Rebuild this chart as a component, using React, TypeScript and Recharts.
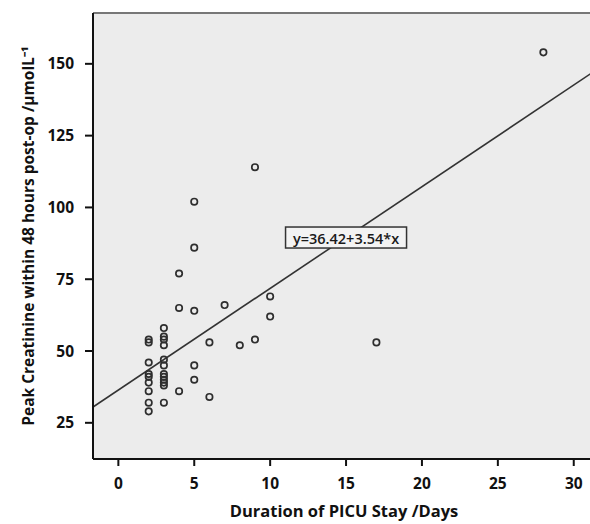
import { ScatterChart, Scatter, XAxis, YAxis, CartesianGrid, ReferenceLine, ReferenceDot, Label } from 'recharts';

// PICU stay (days) vs peak creatinine
const stayDays = [
  2, 2, 2, 2, 2, 2, 2, 2, 2,
  3, 3, 3, 3, 3, 3, 3, 3, 3, 3, 3, 3,
  4, 4, 4,
  5, 5, 5, 5, 5,
  6, 6,
  7,
  8,
  9, 9,
  10, 10,
  17,
  28,
];
const creatinine = [
  54, 53, 46, 42, 41, 39, 36, 32, 29,
  58, 55, 54, 52, 47, 45, 42, 41, 40, 39, 38, 32,
  77, 65, 36,
  102, 86, 64, 45, 40,
  53, 34,
  66,
  52,
  114, 54,
  69, 62,
  53,
  154,
];

const xTicks = [0, 5, 10, 15, 20, 25, 30];
const yTicks = [25, 50, 75, 100, 125, 150];

// fit line y = a + b*x
const INTERCEPT = 36.42;
const SLOPE = 3.54;
const FIT_LABEL = 'y=36.42+3.54*x';
const LABEL_AT_X = 15;

const X_MIN = -1.67;
const X_MAX = 31.4;
const Y_MIN = 12.4;
const Y_MAX = 167.7;

const points = stayDays.map((d, i) => ({ days: d, creat: creatinine[i] }));
const fit = (x: number) => INTERCEPT + SLOPE * x;

const FONT = '"Open Sans", sans-serif';
const tickStyle = { fill: '#111', fontSize: 15.5, fontWeight: 700, fontFamily: FONT };

const Ring = (props: any) => (
  <circle cx={props.cx} cy={props.cy} r={3.2} fill="none" stroke="#2e2e2e" strokeWidth={1.7} />
);

const FitBox = (props: any) => {
  const { cx, cy } = props;
  return (
    <g>
      <rect x={cx - 60.5} y={cy - 10.5} width={121} height={21} fill="#f3f3f3" stroke="#333" strokeWidth={1.5} />
      <text x={cx} y={cy + 1} textAnchor="middle" dominantBaseline="central" fontSize={14.5} fontWeight={600} fontFamily={FONT} fill="#1a1a1a">
        {FIT_LABEL}
      </text>
    </g>
  );
};

export default function App() {
  return (
    <div style={{ position: 'absolute', left: 0, top: 0, width: 590, height: 524, overflow: 'hidden', background: '#fff' }}>
      <ScatterChart width={600} height={524} margin={{ top: 13, right: 5, left: 0, bottom: 0 }}>
        <CartesianGrid fill="#ececec" horizontal={false} vertical={false} />
        <XAxis
          type="number"
          dataKey="days"
          domain={[X_MIN, X_MAX]}
          ticks={xTicks}
          allowDataOverflow
          height={65}
          tick={tickStyle}
          tickSize={7}
          tickMargin={12}
          axisLine={{ stroke: '#111', strokeWidth: 2 }}
          tickLine={{ stroke: '#111', strokeWidth: 2 }}
        >
          <Label
            value="Duration of PICU Stay /Days"
            position="insideBottom"
            offset={7}
            style={{ fill: '#111', fontSize: 16.5, fontWeight: 700, fontFamily: FONT }}
          />
        </XAxis>
        <YAxis
          type="number"
          dataKey="creat"
          domain={[Y_MIN, Y_MAX]}
          ticks={yTicks}
          allowDataOverflow
          width={93}
          tick={tickStyle}
          tickSize={8}
          tickMargin={11}
          axisLine={{ stroke: '#111', strokeWidth: 2 }}
          tickLine={{ stroke: '#111', strokeWidth: 2 }}
        >
          <Label
            content={(p: any) => {
              const vb = p.viewBox;
              const x = vb.x + 28;
              const y = vb.y + vb.height / 2;
              return (
                <text
                  x={x}
                  y={y}
                  transform={`rotate(-90 ${x} ${y})`}
                  textAnchor="middle"
                  dominantBaseline="central"
                  fontSize={15.5}
                  fontWeight={700}
                  fontFamily={FONT}
                  fill="#111"
                >
                  Peak Creatinine within 48 hours post-op /µmolL⁻¹
                </text>
              );
            }}
          />
        </YAxis>
        <ReferenceLine y={Y_MAX} stroke="#777" strokeWidth={2} ifOverflow="visible" />
        <ReferenceLine
          segment={[
            { x: X_MIN, y: fit(X_MIN) },
            { x: X_MAX, y: fit(X_MAX) },
          ]}
          stroke="#333"
          strokeWidth={1.6}
          ifOverflow="hidden"
        />
        <ReferenceDot x={LABEL_AT_X} y={fit(LABEL_AT_X)} r={1} shape={FitBox} ifOverflow="visible" />
        <Scatter data={points} shape={Ring} isAnimationActive={false} />
      </ScatterChart>
    </div>
  );
}
